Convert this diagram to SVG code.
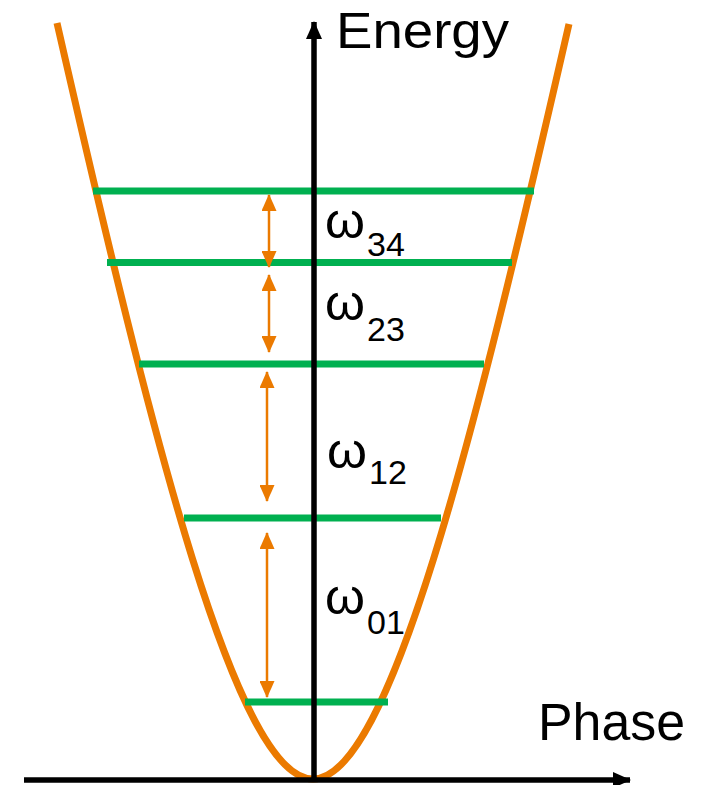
<svg xmlns="http://www.w3.org/2000/svg" width="704" height="785" viewBox="0 0 704 785">
  <style>
    .level { stroke: #00B050; stroke-width: 7; fill: none; }
    .gap { stroke: #EB7A00; stroke-width: 2.5; fill: none; marker-start: url(#oa); marker-end: url(#oa); }
    .axis { stroke: #000; stroke-width: 5.5; fill: none; }
    .lbl { font-family: "Liberation Sans", Arial, sans-serif; fill: #000; }
    .w { font-size: 50px; }
    .sub { font-size: 34px; }
  </style>
  <defs>
    <marker id="oa" viewBox="0 0 17 15" refX="16" refY="7.5" markerWidth="17" markerHeight="15" markerUnits="userSpaceOnUse" orient="auto-start-reverse">
      <path d="M0,0 L17,7.5 L0,15 Z" fill="#EB7A00"/>
    </marker>
    <marker id="ka" viewBox="0 0 18 16" refX="17" refY="8" markerWidth="18" markerHeight="16" markerUnits="userSpaceOnUse" orient="auto">
      <path d="M0,0 L18,8 L0,16 Z" fill="#000"/>
    </marker>
  </defs>
  <rect width="704" height="785" fill="#fff"/>

  <g id="potential">
    <path d="M57,23 C153.6,446 237,779 313,779 C389,779 472.4,446 569,24" fill="none" stroke="#EB7A00" stroke-width="7"/>
  </g>

  <g id="levels">
    <g id="level4"><line class="level" x1="93" y1="191" x2="534" y2="191"/></g>
    <g id="level3"><line class="level" x1="107" y1="262.5" x2="512" y2="262.5"/></g>
    <g id="level2"><line class="level" x1="139" y1="364" x2="484" y2="364"/></g>
    <g id="level1"><line class="level" x1="184" y1="518" x2="441" y2="518"/></g>
    <g id="level0"><line class="level" x1="245" y1="702" x2="388" y2="702"/></g>
  </g>

  <g id="connectors">
    <line class="axis" x1="314" y1="781" x2="314" y2="22" marker-end="url(#ka)"/>
    <line class="axis" x1="24" y1="780" x2="630" y2="780" marker-end="url(#ka)"/>
    <line class="gap" x1="269" y1="195" x2="269" y2="267"/>
    <line class="gap" x1="269" y1="275" x2="269" y2="352"/>
    <line class="gap" x1="267" y1="372" x2="267" y2="501"/>
    <line class="gap" x1="267" y1="533" x2="267" y2="697"/>
  </g>

  <g id="labels">
    <text class="lbl" x="336" y="48" font-size="50" textLength="173" lengthAdjust="spacingAndGlyphs">Energy</text>
    <text class="lbl" x="538" y="740" font-size="51" textLength="147" lengthAdjust="spacingAndGlyphs">Phase</text>
    <text class="lbl w" x="325" y="238" textLength="40" lengthAdjust="spacingAndGlyphs">ω</text>
    <text class="lbl sub" x="367" y="256">34</text>
    <text class="lbl w" x="325" y="320" textLength="40" lengthAdjust="spacingAndGlyphs">ω</text>
    <text class="lbl sub" x="367" y="341">23</text>
    <text class="lbl w" x="327" y="468" textLength="40" lengthAdjust="spacingAndGlyphs">ω</text>
    <text class="lbl sub" x="369" y="484">12</text>
    <text class="lbl w" x="325" y="614" textLength="40" lengthAdjust="spacingAndGlyphs">ω</text>
    <text class="lbl sub" x="367" y="634">01</text>
  </g>
</svg>
